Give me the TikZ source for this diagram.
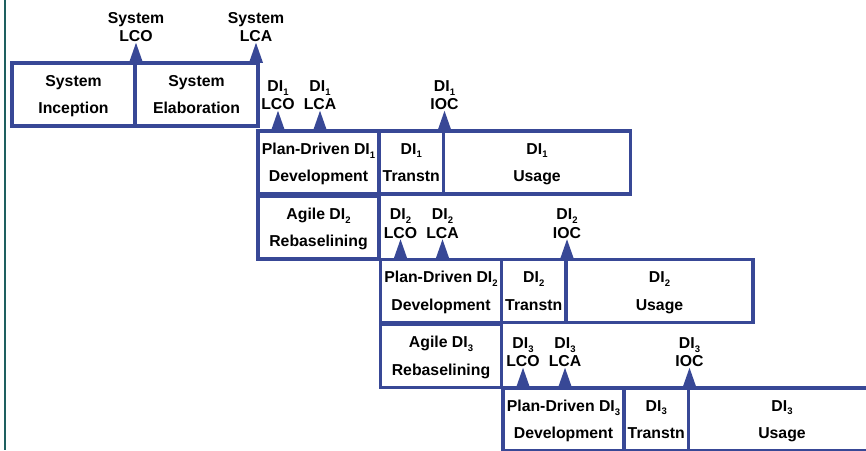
\documentclass[tikz,border=0pt]{standalone}
\usepackage{fontspec}
\setmainfont{Liberation Sans}
\usetikzlibrary{positioning,shapes.geometric}

\definecolor{phaseblue}{RGB}{56,72,150}
\definecolor{edgeteal}{RGB}{30,96,96}
\newcommand{\dsub}[1]{\raisebox{-0.45ex}{\fontsize{9.5}{9.5}\selectfont #1}}
\newcommand{\DI}[1]{DI\dsub{#1}}

\tikzset{
  phase/.style={draw=phaseblue, line width=3.2pt, rectangle, inner sep=0pt, outer sep=0pt,
    minimum height=63pt, text depth=0pt, align=center, font=\fontsize{15.8}{27.5}\selectfont\bfseries},
  milestone/.style={isosceles triangle, isosceles triangle stretches, shape border rotate=90,
    fill=phaseblue, minimum width=14pt, minimum height=20pt, inner sep=0pt, anchor=south},
  msname/.style={align=center, inner sep=0pt, anchor=south,
    font=\fontsize{15.8}{18.5}\selectfont\bfseries},
}

\begin{document}
\begin{tikzpicture}[x=1pt, y=-1pt]
            \useasboundingbox (0,0) rectangle (866,450);
            \clip (0,0) rectangle (866,450);
            \draw[edgeteal, line width=2pt] (5,0) -- (5,450);
            % system phases
            \node[phase, minimum width=123pt, anchor=north west] (sysinc) at (12,63) {System\\Inception};
            \node[phase, minimum width=123pt, right=0pt of sysinc] (syselab) {System\\Elaboration};
            \node[milestone, xshift=1pt] (syslco) at (sysinc.north east) {};
            \node[milestone, xshift=-2pt] (syslca) at (syselab.north east) {};
            \node[msname] (syslcotxt) at (syslco.apex) {System\\LCO};
            \node[msname] (syslcatxt) at (syslca.apex) {System\\LCA};
            % increments
            \foreach \i in {1,2,3}{
              \node[phase, minimum width=121pt, anchor=north west] (dev\i) at ({258+122.5*(\i-1)},{131+128.5*(\i-1)}) {Plan-Driven \DI{\i}\\Development};
              \node[phase, minimum width=64.5pt, right=0pt of dev\i] (trans\i) {\DI{\i}\\Transtn};
              \node[phase, minimum width=187pt, right=0pt of trans\i] (use\i) {\DI{\i}\\Usage};
              \node[milestone, xshift=20pt] (lco\i) at (dev\i.north west) {};
              \node[milestone, xshift=62pt] (lca\i) at (dev\i.north west) {};
              \node[milestone, xshift=1pt] (ioc\i) at (trans\i.north east) {};
              \node[msname] (lco\i txt) at (lco\i.apex) {\DI{\i}\\LCO};
              \node[msname] (lca\i txt) at (lca\i.apex) {\DI{\i}\\LCA};
              \node[msname] (ioc\i txt) at (ioc\i.apex) {\DI{\i}\\IOC};
            }
            % rebaselining
            \foreach \i/\j in {1/2,2/3}{
              \node[phase, minimum width=121pt, below=2pt of dev\i] (agile\j) {Agile \DI{\j}\\Rebaselining};
            }
        \end{tikzpicture}
\end{document}
